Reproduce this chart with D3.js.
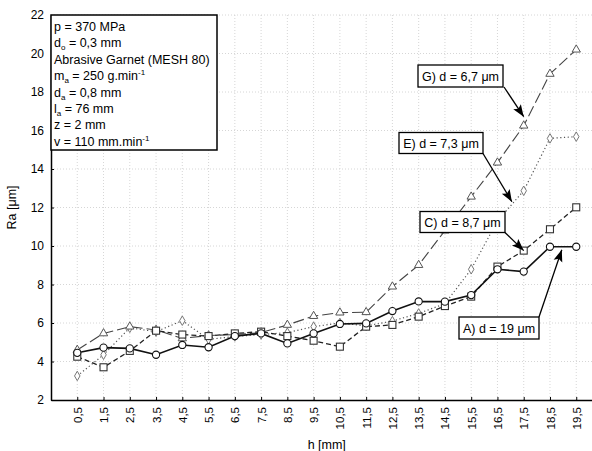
<!DOCTYPE html>
<html><head><meta charset="utf-8">
<script src="https://cdn.jsdelivr.net/npm/d3@7"></script>
<style>body{margin:0;background:#fff}svg{display:block;font-family:"Liberation Sans",Arial,sans-serif}</style>
</head><body><svg id="c" width="592" height="451"></svg>
<script>
const hValues = [0.5,1.5,2.5,3.5,4.5,5.5,6.5,7.5,8.5,9.5,10.5,11.5,12.5,13.5,14.5,15.5,16.5,17.5,18.5,19.5];
const xTickLabels = ["0,5","1,5","2,5","3,5","4,5","5,5","6,5","7,5","8,5","9,5","10,5","11,5","12,5","13,5","14,5","15,5","16,5","17,5","18,5","19,5"];
const yTicks = [2,4,6,8,10,12,14,16,18,20,22];
const seriesA = [4.45,4.72,4.68,4.35,4.86,4.74,5.32,5.46,4.94,5.46,5.95,5.98,6.62,7.12,7.11,7.45,8.79,8.67,9.96,9.96];
const seriesC = [4.25,3.7,4.55,5.6,5.4,5.32,5.46,5.55,5.32,5.08,4.77,5.81,5.9,6.33,6.88,7.37,8.93,9.76,10.87,12.01];
const seriesE = [3.25,4.35,5.75,5.55,6.12,5.15,5.3,5.4,5.5,5.81,6.0,5.85,6.1,6.5,7.0,8.79,11.3,12.87,15.59,15.68];
const seriesG = [4.6,5.46,5.81,5.64,5.2,5.35,5.4,5.5,5.9,6.36,6.54,6.56,7.89,9.01,10.8,12.56,14.33,16.25,18.94,20.2];
const labelA = "A) d = 19 μm", labelC = "C) d = 8,7 μm", labelE = "E) d = 7,3 μm", labelG = "G) d = 6,7 μm";

const svg = d3.select("#c");
const x = d3.scaleLinear().domain([-0.5,20.5]).range([51,602.5]);
const y = d3.scaleLinear().domain([2,22]).range([400,15]);

// grid
const grid = svg.append("g").attr("stroke","#ccc").attr("stroke-width",0.8).attr("stroke-dasharray","1,2");
grid.selectAll(".gx").data(hValues).join("line").attr("x1",d=>x(d)).attr("x2",d=>x(d)).attr("y1",y(2)).attr("y2",y(22));
grid.selectAll(".gy").data(yTicks.slice(1)).join("line").attr("x1",x(-0.5)).attr("x2",592).attr("y1",d=>y(d)).attr("y2",d=>y(d));

// axes
const xAxis = d3.axisBottom(x).tickValues(hValues).tickFormat((d,i)=>xTickLabels[i]).tickSizeInner(-3).tickSizeOuter(0).tickPadding(6);
const gx = svg.append("g").attr("transform",`translate(0,${y(2)})`).call(xAxis);
gx.select(".domain").attr("stroke","#000").attr("stroke-width",1.5);
gx.selectAll(".tick line").attr("stroke","#000");
gx.selectAll(".tick text").attr("transform","rotate(-90)").attr("text-anchor","end").attr("dy","0.35em").attr("x",-7).attr("y",0).attr("font-size",11.5).attr("fill","#000");
const yAxis = d3.axisLeft(y).tickValues(yTicks).tickSizeInner(-3).tickSizeOuter(0).tickPadding(7);
const gy = svg.append("g").attr("transform",`translate(${x(-0.5)},0)`).call(yAxis);
gy.select(".domain").attr("stroke","#000").attr("stroke-width",1.5);
gy.selectAll(".tick line").attr("stroke","#000");
gy.selectAll(".tick text").attr("font-size",12).attr("fill","#000");

svg.append("text").attr("transform",`translate(16,${(y(2)+y(22))/2}) rotate(-90)`).attr("text-anchor","middle").attr("font-size",12.5).text("Ra [μm]");
svg.append("text").attr("x",(x(-0.5)+x(20.5))/2).attr("y",449).attr("text-anchor","middle").attr("font-size",12.5).text("h [mm]");

const line = d3.line().x((d,i)=>x(hValues[i])).y(d=>y(d));
function drawSeries(data, dash, color, width){
  svg.append("path").datum(data).attr("d",line).attr("fill","none").attr("stroke",color).attr("stroke-width",width).attr("stroke-dasharray",dash);
}
drawSeries(seriesE,"1.2,2.5","#555",1.2);
drawSeries(seriesG,"11,4","#444",1.1);
drawSeries(seriesC,"5,3","#222",1.3);
drawSeries(seriesA,null,"#111",1.6);

// markers
svg.append("g").selectAll("path").data(seriesE).join("path")
  .attr("d",d3.symbol(d3.symbolDiamond,26)).attr("transform",(d,i)=>`translate(${x(hValues[i])},${y(d)})`)
  .attr("fill","#fff").attr("stroke","#777").attr("stroke-width",1);
svg.append("g").selectAll("path").data(seriesG).join("path")
  .attr("d",d3.symbol(d3.symbolTriangle,30)).attr("transform",(d,i)=>`translate(${x(hValues[i])},${y(d)})`)
  .attr("fill","#fff").attr("stroke","#555").attr("stroke-width",1);
svg.append("g").selectAll("rect").data(seriesC).join("rect")
  .attr("x",(d,i)=>x(hValues[i])-3.5).attr("y",d=>y(d)-3.5).attr("width",7).attr("height",7)
  .attr("fill","#fff").attr("stroke","#333").attr("stroke-width",1.1);
svg.append("g").selectAll("circle").data(seriesA).join("circle")
  .attr("cx",(d,i)=>x(hValues[i])).attr("cy",d=>y(d)).attr("r",3.6)
  .attr("fill","#fff").attr("stroke","#111").attr("stroke-width",1.1);

// parameter box
svg.append("rect").attr("x",x(-0.5)).attr("y",15).attr("width",166).attr("height",135).attr("fill","#fff").attr("stroke","#000").attr("stroke-width",1.5);
const params = [
  [["p = 370 MPa"]],
  [["d"],["o","sub"],[" = 0,3 mm"]],
  [["Abrasive Garnet (MESH 80)"]],
  [["m"],["a","sub"],[" = 250 g.min"],["-1","sup"]],
  [["d"],["a","sub"],[" = 0,8 mm"]],
  [["l"],["a","sub"],[" = 76 mm"]],
  [["z = 2 mm"]],
  [["v = 110 mm.min"],["-1","sup"]]
];
params.forEach((parts,i)=>{
  const t = svg.append("text").attr("x",54).attr("y",31+i*16.4).attr("font-size",12.5);
  let off = 0;
  parts.forEach(p=>{
    const s = t.append("tspan").text(p[0]);
    if(p[1]==="sub"){ s.attr("font-size",8).attr("dy",3-off); off=3; }
    else if(p[1]==="sup"){ s.attr("font-size",8).attr("dy",-5-off); off=-5; }
    else { s.attr("dy",-off); off=0; }
  });
});

// annotations
svg.append("defs").append("marker").attr("id","arr").attr("viewBox","0 0 10 10").attr("refX",10).attr("refY",5)
  .attr("markerWidth",12).attr("markerHeight",12).attr("markerUnits","userSpaceOnUse").attr("orient","auto")
  .append("path").attr("d","M0,1.2 L10,5 L0,8.8 L2,5 Z").attr("fill","#000");
const annots = [
  {label:labelG, bx:418, by:65, bw:85, bh:22, ax:504, ay:87, h:17.5, v:seriesG[17], dy:-9},
  {label:labelE, bx:399, by:132.5, bw:84, bh:21, ax:483, ay:153.5, h:17.05, v:12.3, dy:0},
  {label:labelC, bx:420, by:211.5, bw:85, bh:21, ax:505, ay:232.5, h:17.5, v:seriesC[17], dy:0},
  {label:labelA, bx:459, by:317, bw:80, bh:22, ax:539, ay:317, h:18.95, v:seriesA[18], dy:3}
];
annots.forEach(a=>{
  svg.append("line").attr("x1",a.ax).attr("y1",a.ay).attr("x2",x(a.h)).attr("y2",y(a.v)+a.dy)
    .attr("stroke","#000").attr("stroke-width",1.3).attr("marker-end","url(#arr)");
  svg.append("rect").attr("x",a.bx).attr("y",a.by).attr("width",a.bw).attr("height",a.bh).attr("fill","#fff").attr("stroke","#000").attr("stroke-width",1.3);
  svg.append("text").attr("x",a.bx+a.bw/2).attr("y",a.by+a.bh/2+4.5).attr("text-anchor","middle").attr("font-size",12.5).text(a.label);
});
</script></body></html>
